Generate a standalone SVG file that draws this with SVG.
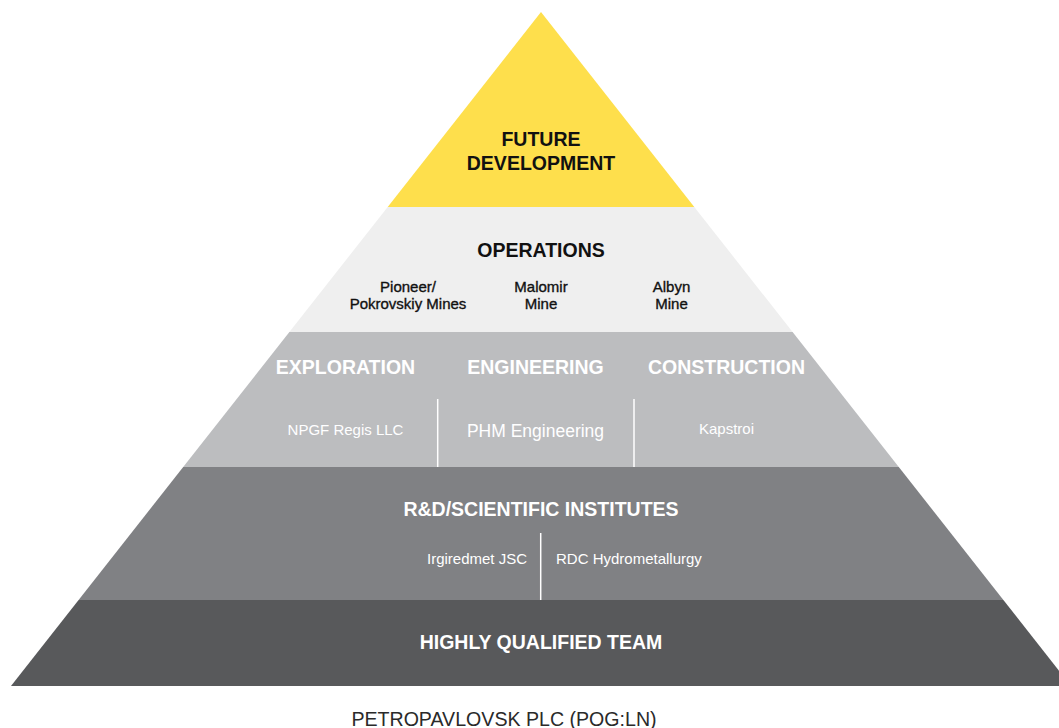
<svg xmlns="http://www.w3.org/2000/svg" width="1059" height="728" viewBox="0 0 1059 728">
  <style>
    .t { font-family: "Liberation Sans", Arial, sans-serif; text-anchor: middle; }
    .h { font-weight: bold; font-size: 19.5px; }
    .dark { fill: #111111; }
    .light { fill: #ffffff; }
    .sub { font-size: 15px; }
    .mid { font-size: 15px; fill: #111111; stroke: #111111; stroke-width: 0.35px; }
    .sep { stroke: #ffffff; stroke-width: 1.5; }
  </style>
  <rect width="1059" height="728" fill="#ffffff"/>

  <!-- top tier -->
  <g id="future-development">
    <polygon points="541,12 694.3,207 387.7,207" fill="#fedf4c"/>
    <text class="t h dark" x="541" y="146">FUTURE</text>
    <text class="t h dark" x="541" y="170">DEVELOPMENT</text>
  </g>

  <!-- operations tier -->
  <g id="operations">
    <polygon points="387.7,207 694.3,207 792.6,332 289.4,332" fill="#efefef"/>
    <text class="t h dark" x="541" y="257">OPERATIONS</text>
    <text class="t mid" x="408" y="292">Pioneer/</text>
    <text class="t mid" x="408" y="309">Pokrovskiy Mines</text>
    <text class="t mid" x="541" y="292">Malomir</text>
    <text class="t mid" x="541" y="309">Mine</text>
    <text class="t mid" x="671.5" y="292">Albyn</text>
    <text class="t mid" x="671.5" y="309">Mine</text>
  </g>

  <!-- exploration / engineering / construction tier -->
  <g id="services">
    <polygon points="289.4,332 792.6,332 898.8,467 183.2,467" fill="#bcbdbf"/>
    <text class="t h light" x="345.5" y="374">EXPLORATION</text>
    <text class="t h light" x="535.5" y="374">ENGINEERING</text>
    <text class="t h light" x="726.5" y="374">CONSTRUCTION</text>
    <text class="t sub light" x="345.5" y="435">NPGF Regis LLC</text>
    <text class="t light" x="535.5" y="437" style="font-size:17.5px">PHM Engineering</text>
    <text class="t sub light" x="726.5" y="434">Kapstroi</text>
  </g>

  <!-- research tier -->
  <g id="research">
    <polygon points="183.2,467 898.8,467 1003.4,600 78.6,600" fill="#808184"/>
    <text class="t h light" x="541" y="516">R&amp;D/SCIENTIFIC INSTITUTES</text>
    <text class="t sub light" x="527" y="564" style="text-anchor:end">Irgiredmet JSC</text>
    <text class="t sub light" x="556" y="564" style="text-anchor:start">RDC Hydrometallurgy</text>
  </g>

  <!-- base tier -->
  <g id="team">
    <polygon points="78.6,600 1003.4,600 1071,686 11,686" fill="#58595b"/>
    <text class="t h light" x="541" y="649">HIGHLY QUALIFIED TEAM</text>
  </g>

  <!-- dividers between sub-units -->
  <g id="connectors">
    <line class="sep" x1="437.7" y1="399" x2="437.7" y2="467"/>
    <line class="sep" x1="634" y1="399" x2="634" y2="467"/>
    <line class="sep" x1="540.7" y1="533" x2="540.7" y2="600"/>
  </g>

  <g id="caption">
    <text class="t" x="504" y="726" style="font-size:19.6px;fill:#2a2a2a">PETROPAVLOVSK PLC (POG:LN)</text>
  </g>
</svg>
